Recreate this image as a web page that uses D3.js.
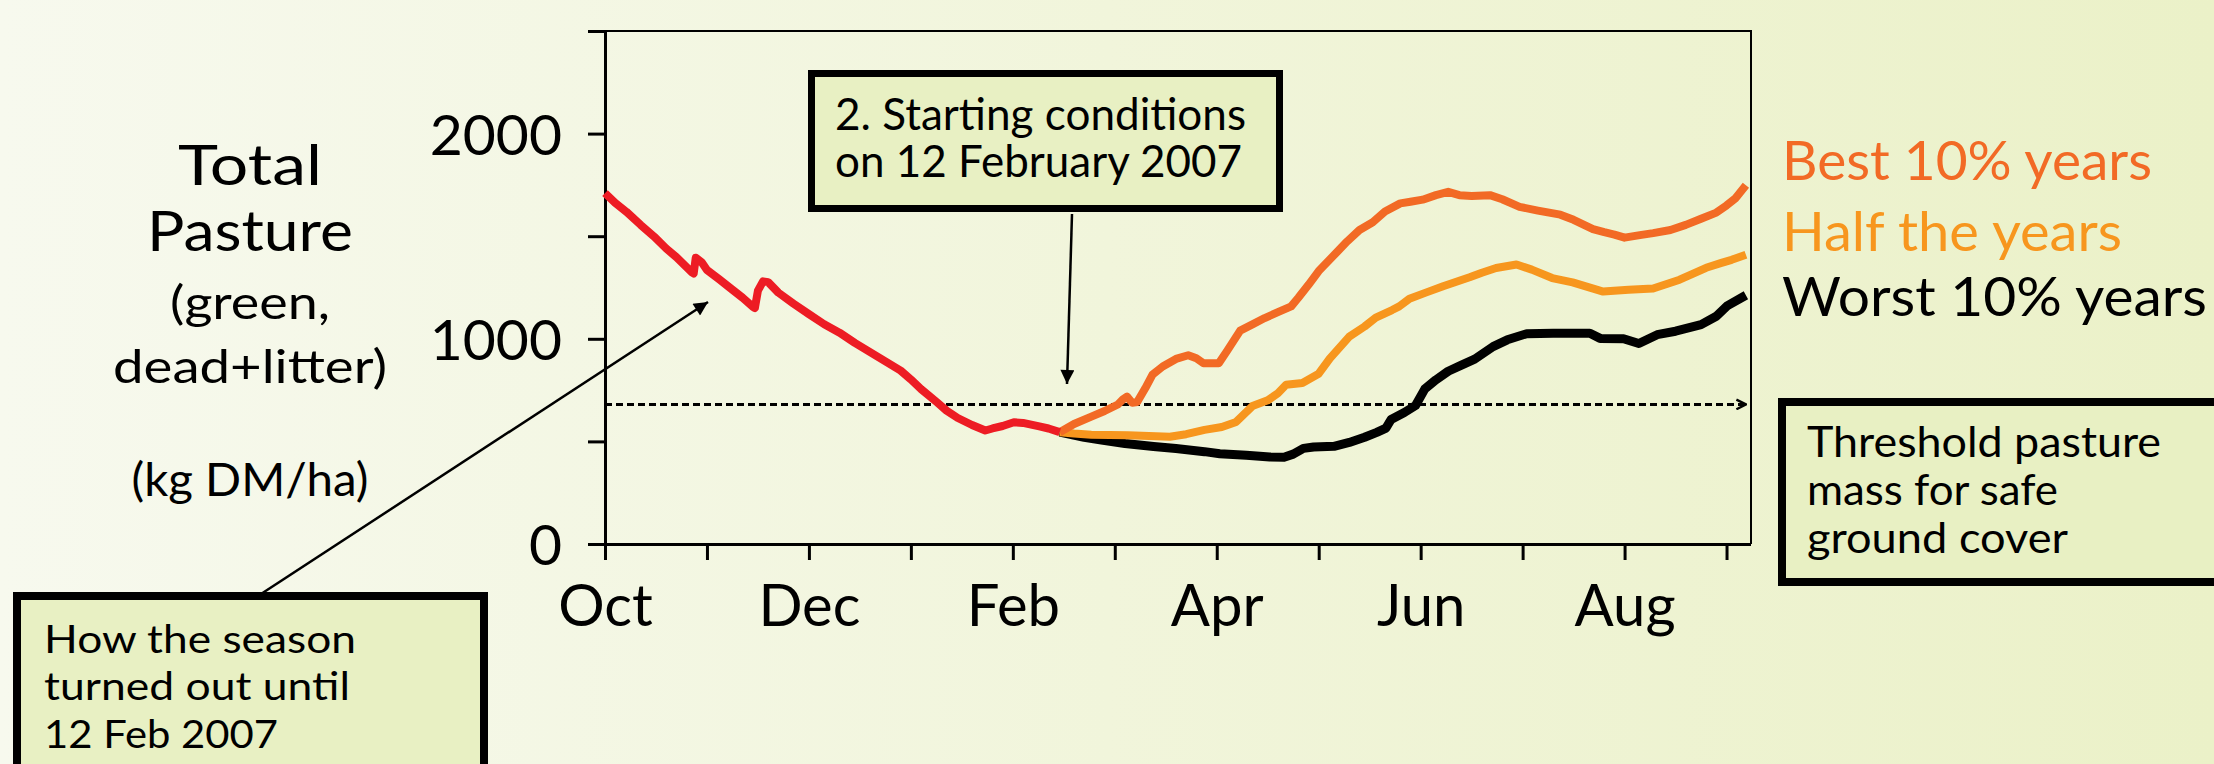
<!DOCTYPE html>
<html>
<head>
<meta charset="utf-8">
<script src="https://cdn.jsdelivr.net/npm/d3@7"></script>
<style>
  body { margin: 0; background: #f6f8ea; }
  svg { display: block; }
  text { font-family: Lato, "Open Sans", sans-serif; }
</style>
</head>
<body>
<svg id="chart"></svg>
<script>
const width = 2214;
const height = 764;

// Month ticks (months after 1 Oct 2006)
const monthTicks = d3.range(0, 12);
const monthLabels = ["Oct", "", "Dec", "", "Feb", "", "Apr", "", "Jun", "", "Aug", ""];
const yTicks = [0, 500, 1000, 1500, 2000, 2500];
const yLabels = { 0: "0", 1000: "1000", 2000: "2000" };

const threshold = 680;

// [month, kg DM/ha]
const pastSeason = [[0,1710],[0.1,1662],[0.21,1619],[0.35,1555],[0.48,1499],[0.6,1440],[0.7,1398],
  [0.85,1325],[0.87,1318],[0.89,1395],[0.95,1372],[1.0,1335],[1.12,1290],[1.25,1239],[1.35,1200],
  [1.45,1156],[1.47,1150],[1.5,1235],[1.55,1280],[1.6,1276],[1.7,1225],[1.85,1171],[2.0,1120],
  [2.15,1071],[2.3,1030],[2.45,980],[2.6,935],[2.75,890],[2.9,845],[3.0,802],[3.1,755],[3.25,693],
  [3.35,650],[3.46,614],[3.6,580],[3.73,553],[3.8,563],[3.9,575],[4.01,593],[4.1,590],[4.26,573],
  [4.35,563],[4.46,545]];

const bestYears = [[4.46,545],[4.6,585],[4.77,621],[4.9,648],[5.03,680],[5.08,705],[5.12,718],
  [5.17,688],[5.22,692],[5.3,760],[5.37,825],[5.47,865],[5.6,902],[5.72,920],[5.8,905],[5.87,881],
  [6.02,881],[6.1,940],[6.23,1040],[6.35,1070],[6.47,1101],[6.6,1130],[6.73,1158],[6.8,1200],
  [6.9,1263],[7.0,1330],[7.13,1397],[7.28,1475],[7.4,1530],[7.53,1568],[7.65,1620],[7.8,1660],
  [7.9,1668],[8.02,1678],[8.15,1700],[8.27,1716],[8.38,1700],[8.5,1696],[8.68,1700],[8.8,1680],
  [8.97,1643],[9.15,1625],[9.37,1605],[9.5,1580],[9.69,1535],[9.8,1520],[9.9,1508],[10.0,1493],
  [10.15,1505],[10.28,1515],[10.45,1530],[10.6,1555],[10.75,1585],[10.9,1615],[11.0,1650],
  [11.09,1686],[11.19,1748]];

const halfYears = [[4.46,545],[4.6,538],[4.77,532],[5.13,530],[5.54,523],[5.7,535],[5.88,556],
  [6.05,570],[6.19,595],[6.35,672],[6.5,700],[6.6,735],[6.68,776],[6.84,785],[7.0,830],[7.11,905],
  [7.3,1011],[7.45,1060],[7.56,1103],[7.72,1140],[7.79,1158],[7.89,1195],[8.05,1225],[8.22,1256],
  [8.48,1300],[8.6,1322],[8.74,1345],[8.94,1362],[9.09,1337],[9.29,1296],[9.49,1275],[9.79,1230],
  [10.04,1239],[10.28,1245],[10.54,1288],[10.8,1346],[10.95,1370],[11.05,1385],[11.19,1410]];

const worstYears = [[4.46,545],[4.7,520],[4.87,507],[5.1,490],[5.38,475],[5.6,465],[5.88,450],
  [6.03,440],[6.29,432],[6.52,424],[6.66,423],[6.75,438],[6.85,466],[6.95,473],[7.15,476],
  [7.3,495],[7.45,520],[7.57,544],[7.66,565],[7.71,607],[7.84,641],[7.95,675],[8.04,755],
  [8.15,800],[8.27,842],[8.4,872],[8.53,901],[8.71,962],[8.85,995],[9.04,1025],[9.3,1027],
  [9.66,1027],[9.76,1002],[9.99,1000],[10.14,977],[10.32,1020],[10.5,1037],[10.75,1069],
  [10.9,1110],[11.01,1162],[11.19,1212]];

const legendNames = ["Best 10% years", "Half the years", "Worst 10% years"];
const legendColors = ["#f26a25", "#f7961e", "#000000"];

const svg = d3.select("#chart")
  .attr("width", width)
  .attr("height", height);

// Background gradient
const defs = svg.append("defs");
const grad = defs.append("linearGradient").attr("id", "bg")
  .attr("x1", 0).attr("x2", 1).attr("y1", 0).attr("y2", 0);
grad.append("stop").attr("offset", "0%").attr("stop-color", "#f7f9ee");
grad.append("stop").attr("offset", "100%").attr("stop-color", "#ebf1c8");
svg.append("rect").attr("width", width).attr("height", height).attr("fill", "url(#bg)");

defs.append("marker").attr("id", "head")
  .attr("viewBox", "0 0 10 10").attr("refX", 10).attr("refY", 5)
  .attr("markerWidth", 22).attr("markerHeight", 14).attr("markerUnits", "userSpaceOnUse")
  .attr("orient", "auto")
  .append("path").attr("d", "M0,0L10,5L0,10Z").attr("fill", "#000");

defs.append("marker").attr("id", "openhead")
  .attr("viewBox", "0 0 10 10").attr("refX", 9).attr("refY", 5)
  .attr("markerWidth", 12).attr("markerHeight", 12).attr("markerUnits", "userSpaceOnUse")
  .attr("orient", "auto")
  .append("path").attr("d", "M1,1L9,5L1,9").attr("fill", "none")
  .attr("stroke", "#000").attr("stroke-width", 2);

// Scales
const x = d3.scaleLinear().domain([0, 11.24]).range([605, 1751]);
const y = d3.scaleLinear().domain([0, 2500]).range([544, 31]);

// Frame (top and right)
svg.append("path")
  .attr("d", `M${x(0)},${y(2500)}H${x(11.24)}V${y(0)}`)
  .attr("fill", "none").attr("stroke", "#000").attr("stroke-width", 2);

// Axes
const yAxis = svg.append("g")
  .attr("transform", `translate(${x(0)},0)`)
  .call(d3.axisLeft(y).tickValues(yTicks).tickSize(17).tickSizeOuter(0)
    .tickPadding(26).tickFormat(d => yLabels[d] || ""));
const xAxis = svg.append("g")
  .attr("transform", `translate(0,${y(0)})`)
  .call(d3.axisBottom(x).tickValues(monthTicks).tickSize(16).tickSizeOuter(0)
    .tickPadding(24).tickFormat(d => monthLabels[d]));

[yAxis, xAxis].forEach(g => {
  g.selectAll("path, line").attr("stroke", "#000").attr("stroke-width", 3);
  g.selectAll("text").attr("fill", "#000").style("font-family", "Lato, sans-serif");
});
yAxis.selectAll("text").style("font-size", "57px").attr("dy", "0.36em");
xAxis.selectAll("text").style("font-size", "58px").attr("dy", "0.72em");
xAxis.select(".domain").attr("d", `M589,0.5H${x(11.24)}`);

// Threshold dashed line
svg.append("line")
  .attr("x1", x(0)).attr("x2", 1746)
  .attr("y1", y(threshold)).attr("y2", y(threshold))
  .attr("stroke", "#000").attr("stroke-width", 3)
  .attr("stroke-dasharray", "7,4")
  .attr("marker-end", "url(#openhead)");

// Lines
const line = d3.line().x(d => x(d[0])).y(d => y(d[1]));
const series = [
  { data: worstYears, color: "#000000", w: 9 },
  { data: halfYears, color: "#f7961e", w: 8 },
  { data: bestYears, color: "#f26a25", w: 8 },
  { data: pastSeason, color: "#ed1c24", w: 8 }
];
svg.selectAll(".series")
  .data(series)
  .join("path")
  .attr("class", "series")
  .attr("d", d => line(d.data))
  .attr("fill", "none")
  .attr("stroke", d => d.color)
  .attr("stroke-width", d => d.w)
  .attr("stroke-linejoin", "round");

// Legend
svg.selectAll(".legend")
  .data(legendNames)
  .join("text")
  .attr("class", "legend")
  .attr("x", 1782)
  .attr("y", (d, i) => [180, 251, 316][i])
  .attr("textLength", (d, i) => [370, 340, 425][i])
  .attr("lengthAdjust", "spacingAndGlyphs")
  .style("font-size", "54px")
  .attr("fill", (d, i) => legendColors[i])
  .text(d => d);

// Y axis title
const titleLines = [
  { t: "Total", y: 185, s: 56, w: 144 },
  { t: "Pasture", y: 251, s: 56, w: 206 },
  { t: "(green,", y: 319, s: 46, w: 160 },
  { t: "dead+litter)", y: 383, s: 46, w: 274 },
  { t: "(kg DM/ha)", y: 496, s: 46, w: 237 }
];
svg.selectAll(".ytitle")
  .data(titleLines)
  .join("text")
  .attr("class", "ytitle")
  .attr("x", d => 250 - d.w / 2)
  .attr("y", d => d.y)
  .attr("textLength", d => d.w)
  .attr("lengthAdjust", "spacingAndGlyphs")
  .style("font-size", d => d.s + "px")
  .text(d => d.t);

// Annotation boxes
function noteBox(bx, by, bw, bh, sw, lines, tx, size) {
  const g = svg.append("g");
  g.append("rect")
    .attr("x", bx + sw / 2).attr("y", by + sw / 2)
    .attr("width", bw - sw).attr("height", bh - sw)
    .attr("fill", "#e8f0c3").attr("stroke", "#000").attr("stroke-width", sw);
  g.selectAll("text")
    .data(lines)
    .join("text")
    .attr("x", tx)
    .attr("y", d => d.y)
    .attr("textLength", d => d.w)
    .attr("lengthAdjust", "spacingAndGlyphs")
    .style("font-size", size + "px")
    .text(d => d.t);
}

// arrows first so boxes sit over their ends
svg.append("line")
  .attr("x1", 1072).attr("y1", 214).attr("x2", 1067).attr("y2", 384)
  .attr("stroke", "#000").attr("stroke-width", 2.5)
  .attr("marker-end", "url(#head)");
svg.append("line")
  .attr("x1", 261).attr("y1", 594).attr("x2", 708).attr("y2", 302)
  .attr("stroke", "#000").attr("stroke-width", 2.5)
  .attr("marker-end", "url(#head)");

noteBox(808, 70, 475, 142, 7, [
  { t: "2. Starting conditions", y: 130, w: 411 },
  { t: "on 12 February 2007", y: 177, w: 407 }
], 835, 44);

noteBox(13, 592, 475, 200, 8, [
  { t: "How the season", y: 653, w: 312 },
  { t: "turned out until", y: 700, w: 306 },
  { t: "12 Feb 2007", y: 748, w: 234 }
], 44, 38);

noteBox(1778, 398, 460, 188, 8, [
  { t: "Threshold pasture", y: 457, w: 354 },
  { t: "mass for safe", y: 505, w: 251 },
  { t: "ground cover", y: 553, w: 261 }
], 1807, 42);
</script>
</body>
</html>
